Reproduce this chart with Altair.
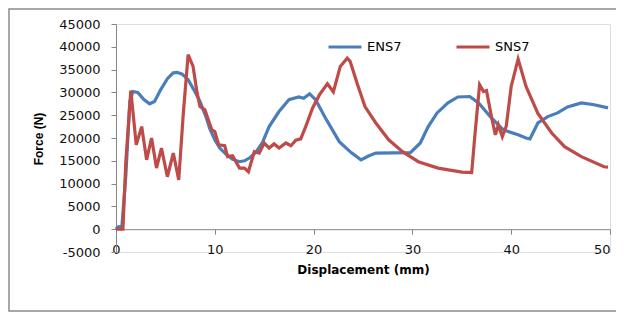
import altair as alt
import pandas as pd

# ENS7 (blue) series
disp_ens = [0.0, 0.2, 0.6, 1.0, 1.4, 1.7, 2.2, 2.8, 3.4, 3.9, 4.5, 5.2, 5.8, 6.2, 6.7, 7.3, 7.9,
            8.5, 9.1, 9.5, 10.0, 10.5, 11.2, 11.8, 12.5, 13.0, 13.5, 14.2, 14.8, 15.5, 16.5, 17.5,
            18.5, 19.0, 19.6, 20.2, 21.2, 22.6, 23.8, 24.8, 25.5, 26.3, 29.8, 30.8, 31.6, 32.5,
            33.6, 34.6, 35.8, 36.7, 38.0, 39.1, 39.7, 40.7, 41.5, 41.9, 42.7, 43.7, 44.7, 45.7,
            47.1, 48.4, 49.8]
force_ens = [0, 500, 600, 12000, 28000, 30200, 30000, 28500, 27500, 28000, 30500, 33000, 34300,
             34400, 34000, 32800, 30500, 28000, 24700, 22000, 19600, 17800, 16300, 15300, 14800,
             15000, 15600, 17000, 18900, 22500, 25800, 28400, 29000, 28700, 29700, 28400, 24400,
             19200, 16800, 15200, 16000, 16700, 16800, 18900, 22500, 25500, 27700, 29000, 29100,
             27700, 24400, 22000, 21400, 20700, 20000, 19800, 23300, 24700, 25500, 26800, 27700,
             27300, 26600]

# SNS7 (red) series
disp_sns = [0.0, 0.7, 1.0, 1.5, 2.05, 2.6, 3.1, 3.6, 4.1, 4.6, 5.2, 5.8, 6.35, 6.8, 7.3, 7.8, 8.2,
            8.5, 9.0, 9.5, 9.7, 10.0, 10.4, 11.0, 11.3, 11.8, 12.5, 13.0, 13.4, 14.0, 14.5, 15.0,
            15.5, 16.0, 16.5, 17.2, 17.7, 18.2, 18.7, 19.2, 19.9, 20.6, 21.4, 22.0, 22.7, 23.4,
            23.7, 24.4, 25.2, 26.3, 27.6, 29.0, 30.6, 32.6, 35.0, 36.0, 36.3, 36.8, 37.2, 37.5,
            38.0, 38.4, 38.7, 39.1, 39.5, 40.0, 40.7, 41.5, 42.7, 44.1, 45.4, 47.1, 49.4, 49.8]
force_sns = [0, 0, 15000, 30400, 18500, 22500, 15200, 20000, 13400, 17800, 11500, 16700, 10800,
             25000, 38300, 35700, 30000, 26900, 26200, 23000, 21800, 21400, 18500, 18300, 15900,
             16100, 13400, 13400, 12600, 17000, 16700, 18900, 17800, 18700, 17800, 18900, 18300,
             19500, 19800, 22500, 26600, 29500, 31900, 30100, 35700, 37500, 36800, 32000, 26900,
             23300, 19600, 17000, 14800, 13400, 12500, 12400, 20000, 31700, 30200, 30400, 24700,
             20700, 22900, 20300, 22600, 31300, 37300, 31300, 25400, 21100, 18100, 15900, 13700,
             13600]

series_names = ["ENS7", "SNS7"]
series_colors = ["#4A7EBB", "#BE4B48"]
x_ticks = [0, 10, 20, 30, 40, 50]
y_ticks = [-5000, 0, 5000, 10000, 15000, 20000, 25000, 30000, 35000, 40000, 45000]

df = pd.concat([
    pd.DataFrame({"d": disp_ens, "f": force_ens, "s": series_names[0], "o": range(len(disp_ens))}),
    pd.DataFrame({"d": disp_sns, "f": force_sns, "s": series_names[1], "o": range(len(disp_sns))}),
])

W, H = 494, 228
axis_gray = "#868686"

lines = alt.Chart(df).mark_line(strokeWidth=3.2).encode(
    x=alt.X("d:Q", scale=alt.Scale(domain=[0, 50], nice=False),
            axis=alt.Axis(values=x_ticks, title="Displacement (mm)", grid=False,
                          offset=-H * 5000 / 50000, domainColor=axis_gray, tickColor=axis_gray,
                          tickSize=5, labelPadding=9, labelFont="DejaVu Sans", labelFontSize=13,
                          labelColor="#111", titleFont="DejaVu Sans", titleFontSize=12,
                          titleFontWeight="bold", titleColor="#000", titleBaseline="top",
                          titleY=35, labelFlush=False,
                          labelAlign=alt.condition("datum.value == 50", alt.value("right"),
                                                   alt.value("center")))),
    y=alt.Y("f:Q", scale=alt.Scale(domain=[-5000, 45000], nice=False),
            axis=alt.Axis(values=y_ticks, title="Force (N)", grid=False,
                          labelExpr="'' + datum.value",
                          domainColor=axis_gray, tickColor=axis_gray, tickSize=5,
                          labelPadding=11, labelFont="DejaVu Sans", labelFontSize=13,
                          labelColor="#111", titleFont="Liberation Sans", titleFontSize=12,
                          titleFontWeight="bold", titleColor="#000", titleAngle=270,
                          titleX=-78, titleY=114.5, titleAlign="center",
                          titleBaseline="middle", labelFlush=False)),
    color=alt.Color("s:N", scale=alt.Scale(domain=series_names, range=series_colors),
                    legend=alt.Legend(title=None, orient="none", legendX=211, legendY=5,
                                      direction="horizontal", symbolType="stroke",
                                      symbolSize=1089, symbolStrokeWidth=3, labelOffset=4,
                                      columnPadding=48, labelFont="DejaVu Sans",
                                      labelFontSize=13, labelColor="#000")),
    order="o:Q",
)

frame = alt.Chart(pd.DataFrame({"k": [0]})).mark_rect(
    fill="transparent", stroke="#8c8c8c", strokeWidth=1.5
).encode(
    x=alt.value(-107), x2=alt.value(530), y=alt.value(-15), y2=alt.value(H + 59)
)

chart = alt.layer(frame, lines).properties(
    width=W, height=H,
    autosize=alt.AutoSizeParams(type="none"),
    padding={"left": 108, "top": 16, "right": 6, "bottom": 60},
).configure_view(stroke=None).configure(background="white")

chart.save("out.html", embed_options={"renderer": "svg", "actions": False})
